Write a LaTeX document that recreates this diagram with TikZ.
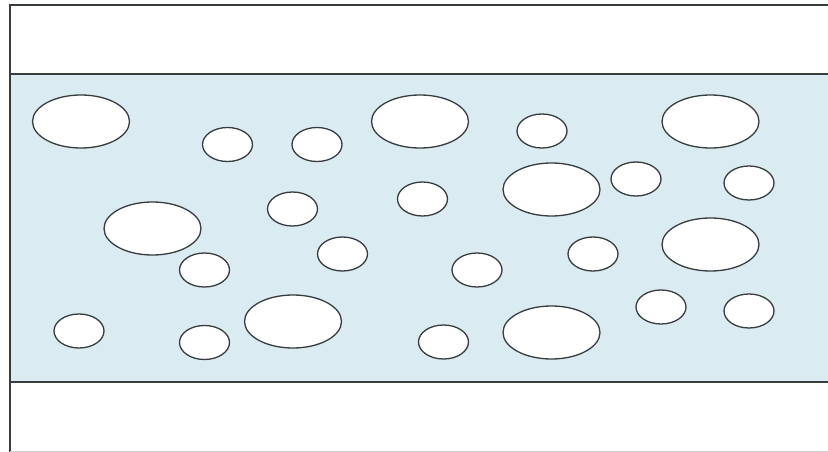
\documentclass[tikz,border=0pt]{standalone}
\definecolor{bandblue}{RGB}{218,235,242}
\definecolor{edgegray}{RGB}{55,60,62}
\tikzset{
  bubble/.style={draw=edgegray, fill=white, line width=1.3pt},
  frameline/.style={draw=edgegray, line width=1.2pt}
}
\begin{document}
\begin{tikzpicture}[x=1pt,y=-1pt]
\useasboundingbox (0,0) rectangle (828,452);
\fill[white] (0,0) rectangle (828,452);
% band
\fill[bandblue] (10,74) rectangle (828,382);
\draw[frameline] (10,74) -- (828,74);
\draw[frameline] (10,382) -- (828,382);
% frame
\draw[frameline] (10,452) -- (10,5) -- (828,5);
\draw[gray!40, line width=0.8pt] (10,451) -- (828,451);
% large bubbles
\foreach \x/\y in {81/121.5, 420/121.5, 710.5/121.5, 551.5/189.5, 152.5/228.5, 710.5/244.5, 293/321.5, 551.5/332.5}
  \draw[bubble] (\x,\y) ellipse [x radius=48.5, y radius=26.5];
% small bubbles
\foreach \x/\y in {227.5/144.5, 317/144.5, 542/131, 636/179, 749/183, 292.5/209, 422.5/199, 204.5/270, 342.5/254, 477/270, 593/254, 79/331, 204.5/342.5, 443.5/342, 661/307, 749/311}
  \draw[bubble] (\x,\y) ellipse [x radius=25, y radius=17];
\end{tikzpicture}
\end{document}
